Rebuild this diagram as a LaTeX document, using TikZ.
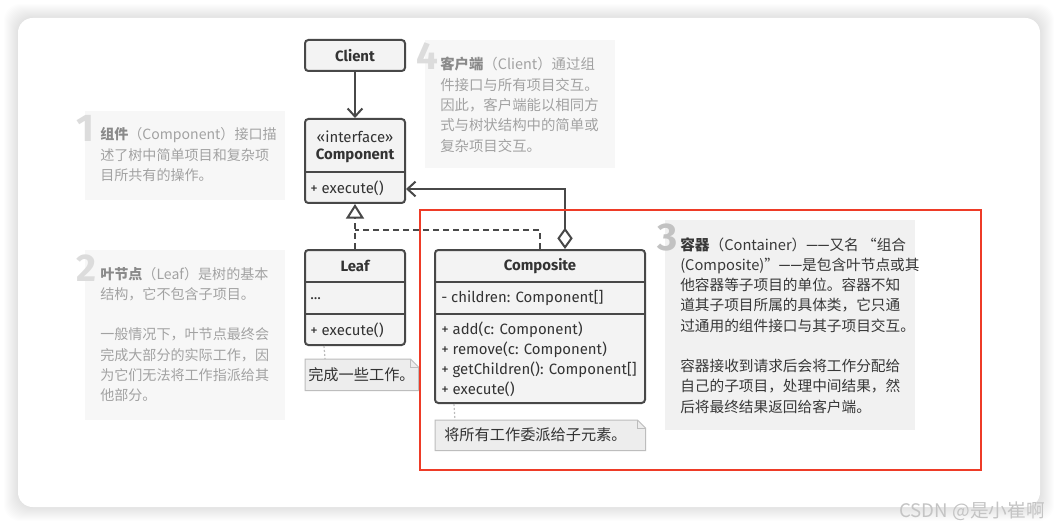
\documentclass[tikz,border=0pt]{standalone}
\usepackage{fontspec}
\setmainfont{Fira Sans}
\newfontfamily\cjk{Noto Sans CJK SC}
\usetikzlibrary{arrows.meta,calc}
\definecolor{umlfill}{HTML}{F3F3F3}
\definecolor{umlline}{HTML}{484848}
\definecolor{umltext}{HTML}{333333}
\definecolor{notefill}{HTML}{EDEDED}
\definecolor{noteline}{HTML}{BDBDBD}
\definecolor{dotgray}{HTML}{BBBBBB}
\definecolor{descfill}{HTML}{F7F7F7}
\definecolor{hlfill}{HTML}{F1F1F1}
\definecolor{desctext}{HTML}{A2A2A2}
\definecolor{descbold}{HTML}{8A8A8A}
\definecolor{hltext}{HTML}{383838}
\definecolor{numgray}{HTML}{DCDCDC}
\definecolor{numdark}{HTML}{C2C2C2}
\definecolor{redframe}{HTML}{EE3B27}
\definecolor{wmgray}{HTML}{C4C4C4}
\newcommand{\desclines}[1]{\begin{tabular}[t]{@{}l@{}}#1\end{tabular}}
\newcommand{\dashpair}{{\rmfamily ——}}
\begin{document}
\begin{tikzpicture}[x=0.75pt,y=-0.75pt,
  umlbox/.style={draw=umlline, line width=1.5pt, fill=umlfill, rounded corners=2.5pt, inner sep=0pt},
  umltitle/.style={text=umltext, inner sep=0pt, font=\bfseries\fontsize{11.2}{13}\selectfont},
  umlitem/.style={text=umltext, inner sep=0pt, anchor=west, font=\fontsize{11.2}{13}\selectfont},
  divline/.style={draw=umlline, line width=1.5pt},
  conn/.style={draw=umlline, line width=1.5pt},
  dashconn/.style={conn, dash pattern=on 4.5pt off 3pt},
  descpanel/.style={fill=descfill, draw=none},
  descnum/.style={text=numgray, inner sep=0pt, anchor=base west, font=\bfseries\fontsize{29}{29}\selectfont},
  desctxt/.style={text=desctext, inner sep=0pt, anchor=base west, font=\cjk\fontsize{10.55}{15.2}\selectfont},
  noteshape/.style={fill=notefill, draw=noteline, line width=0.75pt},
  notetxt/.style={text=umltext, inner sep=0pt, anchor=west, font=\cjk\fontsize{11.4}{13}\selectfont},
  dotline/.style={draw=dotgray, line width=0.9pt, dash pattern=on 1.5pt off 1.5pt},
  shapeholder/.style={inner sep=0pt, draw=none, anchor=north west}
]
\useasboundingbox (0,0) rectangle (1059,527);
% page and panel
\fill[white] (0,0) rectangle (1059,527);
\foreach \i in {1,...,14}{
  \fill[black, opacity=0.009, rounded corners=12pt] (18-\i,18-\i) rectangle (1040+\i,507+\i);
}
\fill[white, rounded corners=11pt] (18,18) rectangle (1040,507);

% description panels
\fill[descpanel] (85,111) rectangle (285,200);
\node[descnum] (n1) at (76,142) {1};
\node[desctxt] (d1) at (100,140) {\desclines{{\color{descbold}\bfseries 组件}（Component）接口描\\述了树中简单项目和复杂项\\目所共有的操作。}};

\fill[descpanel] (85,250) rectangle (285,420);
\node[descnum] (n2) at (76,281) {2};
\node[desctxt] (d2) at (100,279) {\desclines{{\color{descbold}\bfseries 叶节点}（Leaf）是树的基本\\结构，它不包含子项目。\\[15.2pt]一般情况下，叶节点最终会\\完成大部分的实际工作，因\\为它们无法将工作指派给其\\他部分。}};

\fill[descpanel] (425,40) rectangle (615,168);
\node[descnum] (n4) at (416,70) {4};
\node[desctxt, font=\cjk\fontsize{10.8}{15.2}\selectfont] (d4) at (440,70) {\desclines{{\color{descbold}\bfseries 客户端}（Client）通过组\\件接口与所有项目交互。\\因此，客户端能以相同方\\式与树状结构中的简单或\\复杂项目交互。}};

\fill[hlfill] (665,220) rectangle (915,430);
\node[descnum, text=numdark] (n3) at (657,250) {3};
\node[desctxt, text=hltext, font=\cjk\fontsize{11}{15.2}\selectfont] (d3) at (680,250) {\desclines{{\bfseries 容器}（Container）\dashpair 又名 “组合\\(Composite)”\dashpair 是包含叶节点或其\\他容器等子项目的单位。容器不知\\道其子项目所属的具体类，它只通\\过通用的组件接口与其子项目交互。\\[15.2pt]容器接收到请求后会将工作分配给\\自己的子项目，处理中间结果，然\\后将最终结果返回给客户端。}};

% UML boxes
\node[umlbox, minimum width=75pt, minimum height=23.25pt, font=\bfseries\fontsize{11.2}{13}\selectfont, text=umltext] (client) at (355,55.5) {Client};

\node[umlbox, minimum width=75pt, minimum height=63pt] (comp) at (355,161) {};
\node[umlitem, anchor=center] (compst) at (355,137) {«interface»};
\node[umltitle] (compname) at (355,156) {Component};
\draw[divline] (comp.west |- 0,172) -- (comp.east |- 0,172);
\node[umlitem] (compexec) at (310,188) {+ execute()};

\node[umlbox, minimum width=75pt, minimum height=71.25pt] (leaf) at (355,297.5) {};
\node[umltitle] (leafname) at (355,266) {Leaf};
\draw[divline] (leaf.west |- 0,282) -- (leaf.east |- 0,282);
\node[umlitem] (leafdots) at (310,299) {...};
\draw[divline] (leaf.west |- 0,314) -- (leaf.east |- 0,314);
\node[umlitem] (leafexec) at (310,330) {+ execute()};

\node[umlbox, minimum width=157.5pt, minimum height=114.75pt] (compo) at (540,326.5) {};
\node[umltitle] (componame) at (540,266) {Composite};
\draw[divline] (compo.west |- 0,282) -- (compo.east |- 0,282);
\node[umlitem] (compochild) at (441,298) {- children: Component[]};
\draw[divline] (compo.west |- 0,314) -- (compo.east |- 0,314);
\node[umlitem] (compoadd) at (441,330) {+ add(c: Component)};
\node[umlitem] (comporem) at (441,350) {+ remove(c: Component)};
\node[umlitem] (compoget) at (441,370) {+ getChildren(): Component[]};
\node[umlitem] (compoexec) at (441,389) {+ execute()};

% connectors
\draw[conn, -{Straight Barb[length=6pt,width=11pt]}] (client) -- (comp);
\draw[dashconn, -{Triangle[open, length=11pt, width=13.5pt]}] (leaf) -- (comp);
\coordinate (junction) at (355,230);
\draw[dashconn] (compo.north) |- (junction);
\draw[conn, {Diamond[open, length=16pt, width=11.5pt]}-{Straight Barb[length=6pt,width=11pt]}] ($(compo.north)+(25,0)$) |- ($(comp.south east)+(0,-15)$);

% notes
\node[shapeholder, minimum width=84.75pt, minimum height=23.25pt] (note1) at (305,359) {};
\filldraw[noteshape] (note1.north west) -- ($(note1.north east)+(-8,0)$) -- ($(note1.north east)+(0,8)$) -- (note1.south east) -- (note1.south west) -- cycle;
\draw[noteshape, fill=none] ($(note1.north east)+(-8,0)$) -- ($(note1.north east)+(-8,8)$) -- ($(note1.north east)+(0,8)$);
\node[notetxt] (note1txt) at (308,375) {完成一些工作。};
\draw[dotline] ($(leaf.south west)+(20,0)$) -- ($(note1.north west)+(20,0)$);

\node[shapeholder, minimum width=157.5pt, minimum height=22.5pt] (note2) at (435,420) {};
\filldraw[noteshape] (note2.north west) -- ($(note2.north east)+(-8,0)$) -- ($(note2.north east)+(0,8)$) -- (note2.south east) -- (note2.south west) -- cycle;
\draw[noteshape, fill=none] ($(note2.north east)+(-8,0)$) -- ($(note2.north east)+(-8,8)$) -- ($(note2.north east)+(0,8)$);
\node[notetxt] (note2txt) at (444,435) {将所有工作委派给子元素。};
\draw[dotline] ($(compo.south west)+(20,0)$) -- ($(note2.north west)+(20,0)$);

% red highlight frame
\draw[redframe, line width=1.6pt] (420,210) rectangle (981,470);

% watermark
\node[inner sep=0pt, anchor=east, text=wmgray, font=\cjk\fontsize{14}{14}\selectfont] (wm) at (1045,511) {CSDN @是小崔啊};
\end{tikzpicture}
\end{document}
